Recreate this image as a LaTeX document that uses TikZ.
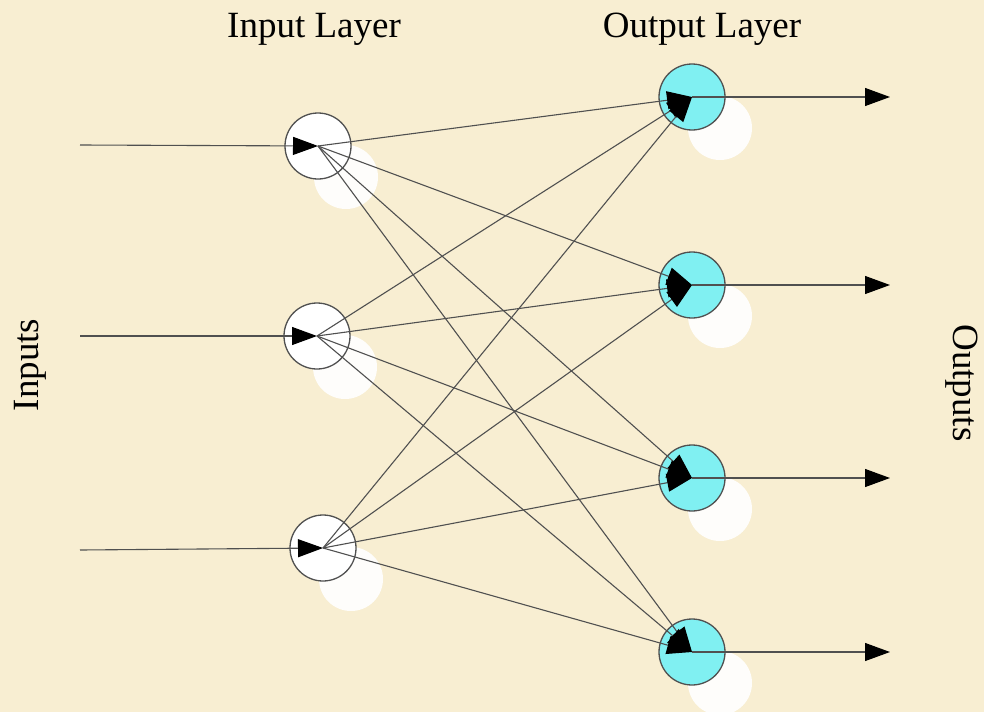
\documentclass[tikz,border=0pt]{standalone}
\usepackage{fontspec}
\setmainfont{Liberation Serif}
\usetikzlibrary{arrows.meta}
\definecolor{paper}{RGB}{248,238,210}
\definecolor{wire}{RGB}{80,80,80}
\definecolor{outfill}{RGB}{128,240,242}
\tikzset{
  neuron/.style={circle, minimum size=66pt, inner sep=0pt, draw=wire, line width=1.3pt},
  innode/.style={neuron, fill=white},
  outnode/.style={neuron, fill=outfill},
  glow/.style={circle, minimum size=64pt, inner sep=0pt, fill=white, opacity=0.92},
  conn/.style={draw=wire, line width=1.1pt, -{Triangle[length=25pt,width=18pt,fill=black,color=black]}},
  heading/.style={font=\fontsize{37}{40}\selectfont, text=black, inner sep=0pt},
}
\begin{document}
\begin{tikzpicture}[x=1pt, y=-1pt]
  \useasboundingbox (0,0) rectangle (984,712);
  \fill[paper] (0,0) rectangle (984,712);

  % soft white shadows behind the units
  \foreach \x/\y in {318/146, 317/336, 323/548, 692/97, 692/285, 692/478, 692/652}
    \node[glow] at (\x+28,\y+31) {};

  % input layer
  \node[innode] (i1) at (318,146) {};
  \node[innode] (i2) at (317,336) {};
  \node[innode] (i3) at (323,548) {};

  % output layer
  \node[outnode] (o1) at (692,97) {};
  \node[outnode] (o2) at (692,285) {};
  \node[outnode] (o3) at (692,478) {};
  \node[outnode] (o4) at (692,652) {};

  % free ends of the input and output lines
  \coordinate (s1) at (80,145);
  \coordinate (s2) at (80,336);
  \coordinate (s3) at (80,550);
  \coordinate (e1) at (890,97);
  \coordinate (e2) at (890,285);
  \coordinate (e3) at (890,478);
  \coordinate (e4) at (890,652);

  % incoming signals
  \draw[conn] (s1) -- (i1.center);
  \draw[conn] (s2) -- (i2.center);
  \draw[conn] (s3) -- (i3.center);

  % full connections between the layers
  \foreach \i in {1,2,3}
    \foreach \o in {1,2,3,4}
      \draw[conn] (i\i.center) -- (o\o.center);

  % outgoing signals
  \foreach \o in {1,2,3,4}
    \draw[conn] (o\o.center) -- (e\o);

  % labels
  \node[heading] (tin) at (314,29) {Input Layer};
  \node[heading] (tout) at (702,29) {Output Layer};
  \node[heading, rotate=90] (lin) at (30,365) {Inputs};
  \node[heading, rotate=-90] (lout) at (962,383) {Outputs};
\end{tikzpicture}
\end{document}
